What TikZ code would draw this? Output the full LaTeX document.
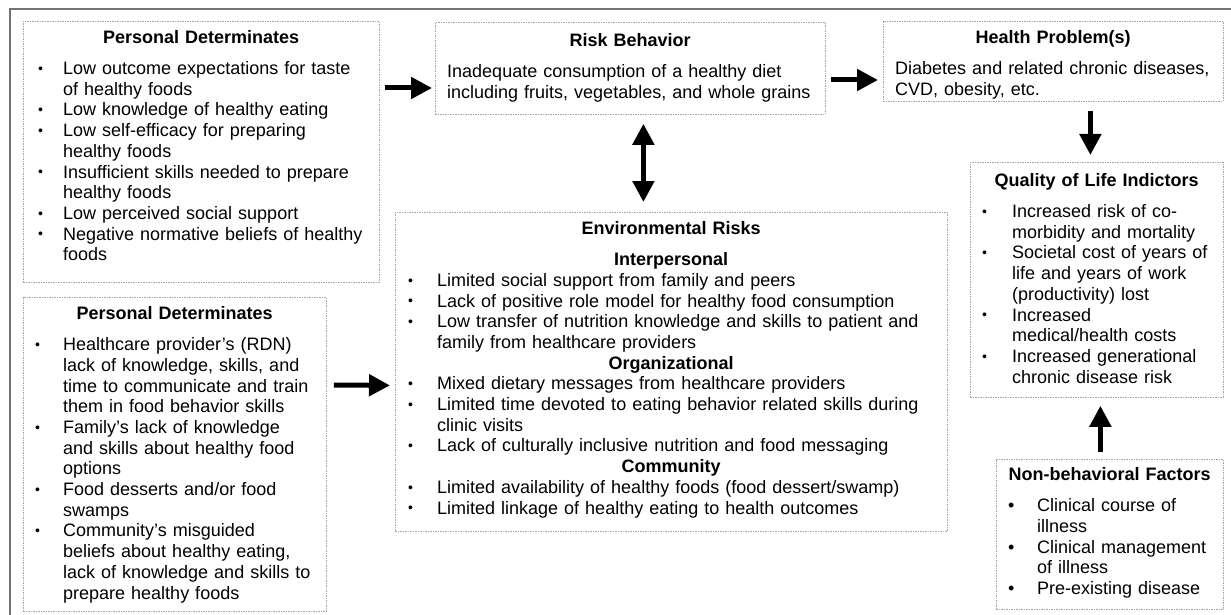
\documentclass[tikz,border=0pt]{standalone}
\usepackage{fontspec}
\setmainfont{Liberation Sans}
\usetikzlibrary{arrows.meta}

\newlength\bulind
\newlength\txtind
\newcommand\smallbul{\raisebox{1.2pt}{\fontsize{14}{14}\selectfont\textbullet}}
\newcommand\bigbul{\textbullet}
\let\bul\smallbul
\newcommand\bitem[1]{\par\hangindent=\txtind\hangafter=1\noindent
  \hbox to\txtind{\hskip\bulind\bul\hfil}#1\par}
\newcommand\head[1]{\par{\centering\bfseries #1\par}}
\newcommand\body[1]{\par{\leftskip=12pt\noindent #1\par}}

\begin{document}
\begin{tikzpicture}[x=1pt,y=-1pt,
    box/.style={draw=black!35, dash pattern=on 1.5pt off 1pt, line width=0.8pt,
      anchor=north west, inner sep=0pt},
    txt/.style={anchor=north west, inner sep=0pt, align=left,
      font=\fontsize{18}{20.7}\selectfont\setlength{\parskip}{0pt}},
    arr/.style={line width=5pt, -{Triangle[length=21pt,width=21pt]}},
    darr/.style={line width=5pt, {Triangle[length=21pt,width=21pt]}-{Triangle[length=21pt,width=21pt]}}]
\useasboundingbox (0,0) rectangle (1231,615);

% outer frame
\draw[black!55, line width=2pt] (1235,9.5) -- (9.5,9.5) -- (9.5,620);

\node[box, minimum width=356, minimum height=261] (pd1) at (23,21) {};
\node[box, minimum width=303, minimum height=314] (pd2) at (23,297) {};
\node[box, minimum width=390, minimum height=92] (rb) at (435,22) {};
\node[box, minimum width=340, minimum height=80] (hp) at (883,21) {};
\node[box, minimum width=253, minimum height=235] (qol) at (970,162) {};
\node[box, minimum width=227, minimum height=150] (nb) at (996,459) {};
\node[box, minimum width=552, minimum height=319] (er) at (395,212) {};

\node[txt, text width=356] (pd1t) at ([yshift=-2pt]pd1.north west) {%
  \setlength\bulind{15pt}\setlength\txtind{40pt}%
  \head{Personal Determinates}\vspace{10pt}
  \bitem{Low outcome expectations for taste\newline of healthy foods}
  \bitem{Low knowledge of healthy eating}
  \bitem{Low self-efficacy for preparing\newline healthy foods}
  \bitem{Insufficient skills needed to prepare\newline healthy foods}
  \bitem{Low perceived social support}
  \bitem{Negative normative beliefs of healthy\newline foods}};

\node[txt, text width=303] (pd2t) at ([yshift=-2pt]pd2.north west) {%
  \setlength\bulind{12pt}\setlength\txtind{40pt}%
  \head{Personal Determinates}\vspace{10pt}
  \bitem{Healthcare provider's (RDN)\newline lack of knowledge, skills, and\newline time to communicate and train\newline them in food behavior skills}
  \bitem{Family's lack of knowledge\newline and skills about healthy food\newline options}
  \bitem{Food desserts and/or food\newline swamps}
  \bitem{Community's misguided\newline beliefs about healthy eating,\newline lack of knowledge and skills to\newline prepare healthy foods}};

\node[txt, text width=390] (rbt) at ([yshift=-4pt]rb.north west) {%
  \head{Risk Behavior}\vspace{10pt}
  \body{Inadequate consumption of a healthy diet\newline including fruits, vegetables, and whole grains}};

\node[txt, text width=340] (hpt) at ([yshift=-2pt]hp.north west) {%
  \head{Health Problem(s)}\vspace{10pt}
  \body{Diabetes and related chronic diseases,\newline CVD, obesity, etc.}};

\node[txt, text width=253] (qolt) at ([yshift=-4pt]qol.north west) {%
  \setlength\bulind{12pt}\setlength\txtind{42pt}%
  \head{Quality of Life Indictors}\vspace{10pt}
  \bitem{Increased risk of co-\newline morbidity and mortality}
  \bitem{Societal cost of years of\newline life and years of work\newline (productivity) lost}
  \bitem{Increased\newline medical/health costs}
  \bitem{Increased generational\newline chronic disease risk}};

\node[txt, text width=552] (ert) at ([yshift=-2pt]er.north west) {%
  \setlength\bulind{13pt}\setlength\txtind{42pt}%
  \head{Environmental Risks}\vspace{10pt}
  \head{Interpersonal}
  \bitem{Limited social support from family and peers}
  \bitem{Lack of positive role model for healthy food consumption}
  \bitem{Low transfer of nutrition knowledge and skills to patient and\newline family from healthcare providers}
  \head{Organizational}
  \bitem{Mixed dietary messages from healthcare providers}
  \bitem{Limited time devoted to eating behavior related skills during\newline clinic visits}
  \bitem{Lack of culturally inclusive nutrition and food messaging}
  \head{Community}
  \bitem{Limited availability of healthy foods (food dessert/swamp)}
  \bitem{Limited linkage of healthy eating to health outcomes}};

\node[txt, text width=227] (nbt) at ([yshift=-1pt]nb.north west) {%
  \setlength\bulind{12pt}\setlength\txtind{41pt}\let\bul\bigbul
  \head{Non-behavioral Factors}\vspace{10pt}
  \bitem{Clinical course of\newline illness}
  \bitem{Clinical management\newline of illness}
  \bitem{Pre-existing disease}};

\draw[arr] ([shift={(5,67)}]pd1.north east) -- ([shift={(-3,66)}]rb.north west);
\draw[arr] ([shift={(5,58)}]rb.north east) -- ([shift={(-5,59)}]hp.north west);
\draw[darr] ([shift={(13,9)}]rb.south) -- ([shift={(-28,-10)}]er.north);
\draw[arr] ([shift={(37,9)}]hp.south) -- ([shift={(-6.5,-7)}]qol.north);
\draw[arr] ([shift={(-9.5,-7)}]nb.north) -- ([shift={(3.5,8)}]qol.south);
\draw[arr] ([shift={(7,88)}]pd2.north east) -- ([shift={(-5,13.5)}]er.west);
\end{tikzpicture}
\end{document}
